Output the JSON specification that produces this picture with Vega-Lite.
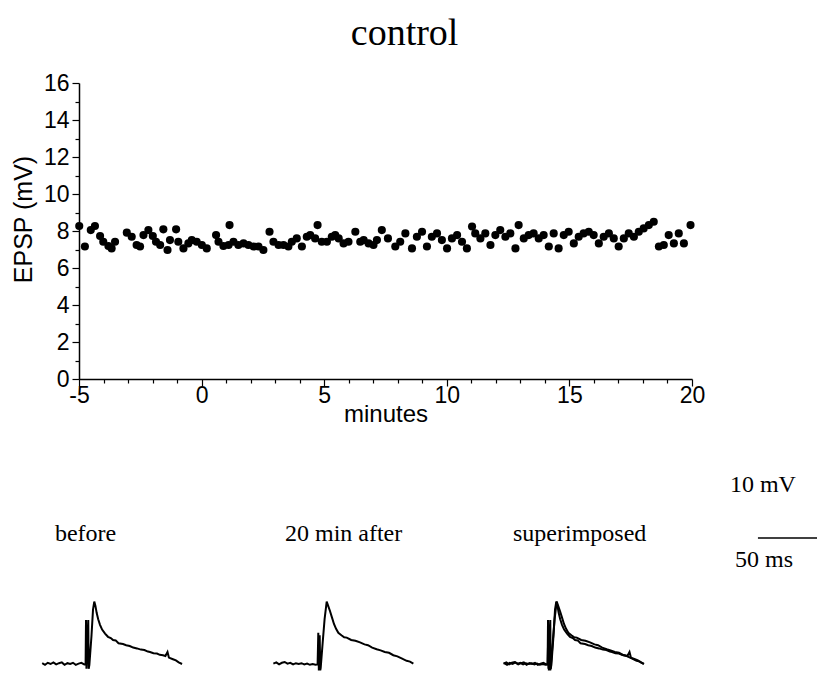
{
  "$schema": "https://vega.github.io/schema/vega-lite/v6.json",
  "background": "white",
  "padding": {"left": 11, "top": 15, "right": 0, "bottom": 0},
  "title": {"text": "control", "font": "Liberation Serif", "fontSize": 38, "fontWeight": "normal", "color": "black", "anchor": "middle", "offset": 19, "dx": -10},
  "spacing": 45,
  "config": {
    "view": {"stroke": null},
    "font": "Liberation Sans",
    "concat": {"spacing": 0},
    "axis": {"domainColor": "black", "domainWidth": 1.5, "tickColor": "black", "tickWidth": 1.2, "labelColor": "black", "labelFont": "Liberation Sans", "labelFontSize": 23, "titleFont": "Liberation Sans", "titleFontSize": 24, "titleFontWeight": "normal", "titleColor": "black", "grid": false, "labelFlush": false, "labelOverlap": false}
  },
  "datasets": {
    "epsp": [
      {"minutes": -4.99, "epsp": 8.27}, {"minutes": -4.76, "epsp": 7.16}, {"minutes": -4.52, "epsp": 8.05}, {"minutes": -4.35, "epsp": 8.27},
      {"minutes": -4.14, "epsp": 7.73}, {"minutes": -4.01, "epsp": 7.42}, {"minutes": -3.8, "epsp": 7.19}, {"minutes": -3.67, "epsp": 7.06},
      {"minutes": -3.53, "epsp": 7.42}, {"minutes": -3.05, "epsp": 7.91}, {"minutes": -2.85, "epsp": 7.69}, {"minutes": -2.65, "epsp": 7.24},
      {"minutes": -2.51, "epsp": 7.16}, {"minutes": -2.37, "epsp": 7.78}, {"minutes": -2.17, "epsp": 8.05}, {"minutes": -1.99, "epsp": 7.73},
      {"minutes": -1.86, "epsp": 7.42}, {"minutes": -1.69, "epsp": 7.24}, {"minutes": -1.56, "epsp": 8.09}, {"minutes": -1.39, "epsp": 6.97},
      {"minutes": -1.29, "epsp": 7.51}, {"minutes": -1.04, "epsp": 8.09}, {"minutes": -0.95, "epsp": 7.42}, {"minutes": -0.74, "epsp": 7.06},
      {"minutes": -0.54, "epsp": 7.33}, {"minutes": -0.4, "epsp": 7.51}, {"minutes": -0.2, "epsp": 7.42}, {"minutes": 0.01, "epsp": 7.24},
      {"minutes": 0.21, "epsp": 7.06}, {"minutes": 0.59, "epsp": 7.78}, {"minutes": 0.69, "epsp": 7.42}, {"minutes": 0.89, "epsp": 7.19},
      {"minutes": 1.1, "epsp": 7.24}, {"minutes": 1.14, "epsp": 8.32}, {"minutes": 1.3, "epsp": 7.42}, {"minutes": 1.5, "epsp": 7.24},
      {"minutes": 1.71, "epsp": 7.33}, {"minutes": 1.91, "epsp": 7.24}, {"minutes": 2.12, "epsp": 7.16}, {"minutes": 2.32, "epsp": 7.16},
      {"minutes": 2.52, "epsp": 6.97}, {"minutes": 2.77, "epsp": 7.96}, {"minutes": 2.93, "epsp": 7.42}, {"minutes": 3.14, "epsp": 7.24},
      {"minutes": 3.34, "epsp": 7.24}, {"minutes": 3.54, "epsp": 7.16}, {"minutes": 3.68, "epsp": 7.42}, {"minutes": 3.88, "epsp": 7.6},
      {"minutes": 4.09, "epsp": 7.16}, {"minutes": 4.29, "epsp": 7.69}, {"minutes": 4.43, "epsp": 7.78}, {"minutes": 4.63, "epsp": 7.6},
      {"minutes": 4.73, "epsp": 8.32}, {"minutes": 4.9, "epsp": 7.42}, {"minutes": 5.11, "epsp": 7.42}, {"minutes": 5.31, "epsp": 7.69},
      {"minutes": 5.45, "epsp": 7.78}, {"minutes": 5.59, "epsp": 7.6}, {"minutes": 5.79, "epsp": 7.33}, {"minutes": 5.99, "epsp": 7.42},
      {"minutes": 6.27, "epsp": 7.96}, {"minutes": 6.47, "epsp": 7.42}, {"minutes": 6.61, "epsp": 7.51}, {"minutes": 6.81, "epsp": 7.33},
      {"minutes": 7.01, "epsp": 7.24}, {"minutes": 7.15, "epsp": 7.51}, {"minutes": 7.35, "epsp": 8.05}, {"minutes": 7.6, "epsp": 7.6},
      {"minutes": 7.9, "epsp": 7.16}, {"minutes": 8.1, "epsp": 7.42}, {"minutes": 8.31, "epsp": 7.87}, {"minutes": 8.58, "epsp": 7.06},
      {"minutes": 8.78, "epsp": 7.69}, {"minutes": 8.99, "epsp": 7.96}, {"minutes": 9.19, "epsp": 7.16}, {"minutes": 9.39, "epsp": 7.69},
      {"minutes": 9.6, "epsp": 7.87}, {"minutes": 9.8, "epsp": 7.51}, {"minutes": 10.01, "epsp": 7.06}, {"minutes": 10.21, "epsp": 7.6},
      {"minutes": 10.42, "epsp": 7.78}, {"minutes": 10.62, "epsp": 7.42}, {"minutes": 10.82, "epsp": 7.06}, {"minutes": 11.03, "epsp": 8.24},
      {"minutes": 11.16, "epsp": 7.87}, {"minutes": 11.37, "epsp": 7.6}, {"minutes": 11.57, "epsp": 7.87}, {"minutes": 11.78, "epsp": 7.24},
      {"minutes": 11.98, "epsp": 7.78}, {"minutes": 12.18, "epsp": 8.05}, {"minutes": 12.39, "epsp": 7.69}, {"minutes": 12.59, "epsp": 7.87},
      {"minutes": 12.8, "epsp": 7.06}, {"minutes": 12.93, "epsp": 8.32}, {"minutes": 13.14, "epsp": 7.6}, {"minutes": 13.34, "epsp": 7.78},
      {"minutes": 13.54, "epsp": 7.87}, {"minutes": 13.75, "epsp": 7.6}, {"minutes": 13.95, "epsp": 7.78}, {"minutes": 14.16, "epsp": 7.16},
      {"minutes": 14.36, "epsp": 7.87}, {"minutes": 14.56, "epsp": 7.06}, {"minutes": 14.77, "epsp": 7.78}, {"minutes": 14.97, "epsp": 7.96},
      {"minutes": 15.18, "epsp": 7.33}, {"minutes": 15.38, "epsp": 7.69}, {"minutes": 15.58, "epsp": 7.87}, {"minutes": 15.79, "epsp": 7.96},
      {"minutes": 15.99, "epsp": 7.78}, {"minutes": 16.2, "epsp": 7.33}, {"minutes": 16.4, "epsp": 7.69}, {"minutes": 16.61, "epsp": 7.87},
      {"minutes": 16.81, "epsp": 7.6}, {"minutes": 17.01, "epsp": 7.16}, {"minutes": 17.22, "epsp": 7.6}, {"minutes": 17.42, "epsp": 7.87},
      {"minutes": 17.63, "epsp": 7.69}, {"minutes": 17.83, "epsp": 7.96}, {"minutes": 18.03, "epsp": 8.14}, {"minutes": 18.24, "epsp": 8.32},
      {"minutes": 18.44, "epsp": 8.5}, {"minutes": 18.65, "epsp": 7.16}, {"minutes": 18.85, "epsp": 7.24}, {"minutes": 19.05, "epsp": 7.78},
      {"minutes": 19.26, "epsp": 7.33}, {"minutes": 19.46, "epsp": 7.87}, {"minutes": 19.67, "epsp": 7.33}, {"minutes": 19.94, "epsp": 8.32}
    ],
    "traces": [
      {"trace": "before", "i": 1, "t": -32, "v": 0.1}, {"trace": "before", "i": 2, "t": -30, "v": -0.1}, {"trace": "before", "i": 3, "t": -28, "v": 0.15},
      {"trace": "before", "i": 4, "t": -26, "v": 0.0}, {"trace": "before", "i": 5, "t": -24, "v": 0.2}, {"trace": "before", "i": 6, "t": -22, "v": -0.05},
      {"trace": "before", "i": 7, "t": -20, "v": 0.1}, {"trace": "before", "i": 8, "t": -18, "v": 0.2}, {"trace": "before", "i": 9, "t": -16, "v": -0.1},
      {"trace": "before", "i": 10, "t": -14, "v": 0.1}, {"trace": "before", "i": 11, "t": -12, "v": 0.0}, {"trace": "before", "i": 12, "t": -10, "v": 0.15},
      {"trace": "before", "i": 13, "t": -8, "v": -0.1}, {"trace": "before", "i": 14, "t": -6, "v": 0.05}, {"trace": "before", "i": 15, "t": -4, "v": 0.15},
      {"trace": "before", "i": 16, "t": -2, "v": -0.05}, {"trace": "before", "i": 17, "t": -1, "v": 0.0},
      {"trace": "before", "i": 18, "t": -0.7, "v": 5.5}, {"trace": "before", "i": 19, "t": -0.4, "v": -0.6}, {"trace": "before", "i": 20, "t": 0.9, "v": 5.5},
      {"trace": "before", "i": 21, "t": 1.2, "v": -0.6}, {"trace": "before", "i": 22, "t": 1.7, "v": -0.1},
      {"trace": "before", "i": 23, "t": 3.2, "v": 3.5}, {"trace": "before", "i": 24, "t": 4.3, "v": 6.8}, {"trace": "before", "i": 25, "t": 5.2, "v": 7.8},
      {"trace": "before", "i": 26, "t": 6.0, "v": 7.3}, {"trace": "before", "i": 27, "t": 6.9, "v": 6.4}, {"trace": "before", "i": 28, "t": 8.0, "v": 5.6},
      {"trace": "before", "i": 29, "t": 9.3, "v": 4.9}, {"trace": "before", "i": 30, "t": 10.8, "v": 4.3}, {"trace": "before", "i": 31, "t": 12.9, "v": 3.8},
      {"trace": "before", "i": 32, "t": 15.0, "v": 3.4}, {"trace": "before", "i": 33, "t": 17.0, "v": 3.25}, {"trace": "before", "i": 34, "t": 18.6, "v": 3.0},
      {"trace": "before", "i": 35, "t": 20.5, "v": 2.95}, {"trace": "before", "i": 36, "t": 22.5, "v": 2.6}, {"trace": "before", "i": 37, "t": 25.7, "v": 2.5},
      {"trace": "before", "i": 38, "t": 28.0, "v": 2.35}, {"trace": "before", "i": 39, "t": 30.5, "v": 2.25}, {"trace": "before", "i": 40, "t": 33.0, "v": 2.05},
      {"trace": "before", "i": 41, "t": 35.7, "v": 1.95}, {"trace": "before", "i": 42, "t": 38.5, "v": 1.8}, {"trace": "before", "i": 43, "t": 41.0, "v": 1.75},
      {"trace": "before", "i": 44, "t": 43.5, "v": 1.55}, {"trace": "before", "i": 45, "t": 45.0, "v": 1.5}, {"trace": "before", "i": 46, "t": 47.5, "v": 1.35},
      {"trace": "before", "i": 47, "t": 50.0, "v": 1.3}, {"trace": "before", "i": 48, "t": 52.0, "v": 1.15}, {"trace": "before", "i": 49, "t": 54.3, "v": 1.1},
      {"trace": "before", "i": 50, "t": 56.0, "v": 1.0}, {"trace": "before", "i": 51, "t": 57.5, "v": 1.5}, {"trace": "before", "i": 52, "t": 58.5, "v": 0.8},
      {"trace": "before", "i": 53, "t": 61.4, "v": 0.6}, {"trace": "before", "i": 54, "t": 63.5, "v": 0.45}, {"trace": "before", "i": 55, "t": 65.5, "v": 0.2},
      {"trace": "before", "i": 56, "t": 67.9, "v": 0.0},
      {"trace": "after", "i": 1, "t": -32.6, "v": 0.05}, {"trace": "after", "i": 2, "t": -30.5, "v": 0.2}, {"trace": "after", "i": 3, "t": -28.5, "v": -0.05},
      {"trace": "after", "i": 4, "t": -26.5, "v": 0.15}, {"trace": "after", "i": 5, "t": -24.5, "v": 0.25}, {"trace": "after", "i": 6, "t": -22.5, "v": 0.05},
      {"trace": "after", "i": 7, "t": -20.5, "v": 0.15}, {"trace": "after", "i": 8, "t": -18.5, "v": -0.05}, {"trace": "after", "i": 9, "t": -16.5, "v": 0.1},
      {"trace": "after", "i": 10, "t": -14.5, "v": 0.0}, {"trace": "after", "i": 11, "t": -12.5, "v": 0.1}, {"trace": "after", "i": 12, "t": -10.5, "v": -0.05},
      {"trace": "after", "i": 13, "t": -8.5, "v": 0.05}, {"trace": "after", "i": 14, "t": -6.5, "v": -0.1}, {"trace": "after", "i": 15, "t": -4.5, "v": 0.0},
      {"trace": "after", "i": 16, "t": -2.5, "v": -0.1}, {"trace": "after", "i": 17, "t": -1, "v": -0.05},
      {"trace": "after", "i": 18, "t": -0.5, "v": 3.9}, {"trace": "after", "i": 19, "t": -0.1, "v": -0.8}, {"trace": "after", "i": 20, "t": 0.5, "v": 3.6},
      {"trace": "after", "i": 21, "t": 0.9, "v": -0.8}, {"trace": "after", "i": 22, "t": 1.2, "v": -0.5},
      {"trace": "after", "i": 23, "t": 2.6, "v": 2.6}, {"trace": "after", "i": 24, "t": 4.0, "v": 5.6}, {"trace": "after", "i": 25, "t": 5.5, "v": 7.8},
      {"trace": "after", "i": 26, "t": 6.5, "v": 7.3}, {"trace": "after", "i": 27, "t": 7.9, "v": 6.6}, {"trace": "after", "i": 28, "t": 9.3, "v": 5.8},
      {"trace": "after", "i": 29, "t": 10.7, "v": 5.0}, {"trace": "after", "i": 30, "t": 12.2, "v": 4.4}, {"trace": "after", "i": 31, "t": 13.8, "v": 3.9},
      {"trace": "after", "i": 32, "t": 16.0, "v": 3.6}, {"trace": "after", "i": 33, "t": 18.0, "v": 3.35}, {"trace": "after", "i": 34, "t": 19.8, "v": 3.3},
      {"trace": "after", "i": 35, "t": 23.0, "v": 3.0}, {"trace": "after", "i": 36, "t": 26.0, "v": 2.9}, {"trace": "after", "i": 37, "t": 29.3, "v": 2.7},
      {"trace": "after", "i": 38, "t": 32.5, "v": 2.45}, {"trace": "after", "i": 39, "t": 35.0, "v": 2.35}, {"trace": "after", "i": 40, "t": 38.0, "v": 2.05},
      {"trace": "after", "i": 41, "t": 41.2, "v": 1.85}, {"trace": "after", "i": 42, "t": 44.0, "v": 1.7}, {"trace": "after", "i": 43, "t": 47.0, "v": 1.5},
      {"trace": "after", "i": 44, "t": 50.0, "v": 1.4}, {"trace": "after", "i": 45, "t": 53.1, "v": 1.1}, {"trace": "after", "i": 46, "t": 56.0, "v": 0.95},
      {"trace": "after", "i": 47, "t": 59.0, "v": 0.7}, {"trace": "after", "i": 48, "t": 62.6, "v": 0.4}, {"trace": "after", "i": 49, "t": 65.0, "v": 0.3},
      {"trace": "after", "i": 50, "t": 67.4, "v": 0.05}
    ]
  },
  "vconcat": [
    {
      "width": 613,
      "height": 296,
      "data": {"name": "epsp"},
      "mark": {"type": "circle", "size": 66, "color": "black", "opacity": 1},
      "encoding": {
        "x": {
          "field": "minutes", "type": "quantitative",
          "scale": {"domain": [-5, 20], "nice": false, "zero": false},
          "axis": {
            "title": "minutes",
            "values": [-5, -4, -3, -2, -1, 0, 1, 2, 3, 4, 5, 6, 7, 8, 9, 10, 11, 12, 13, 14, 15, 16, 17, 18, 19, 20],
            "labelExpr": "datum.value % 5 === 0 ? '' + datum.value : ''",
            "tickSize": {"condition": {"test": "datum.value % 5 === 0", "value": 7}, "value": 4},
            "labelPadding": -2,
            "titlePadding": -5
          }
        },
        "y": {
          "field": "epsp", "type": "quantitative",
          "scale": {"domain": [0, 16], "nice": false, "zero": true},
          "axis": {
            "title": "EPSP (mV)",
            "titleFontSize": 25,
            "titleY": 136,
            "values": [0, 1, 2, 3, 4, 5, 6, 7, 8, 9, 10, 11, 12, 13, 14, 15, 16],
            "labelExpr": "datum.value % 2 === 0 ? '' + datum.value : ''",
            "tickSize": {"condition": {"test": "datum.value % 2 === 0", "value": 7}, "value": 4},
            "labelPadding": 3,
            "titlePadding": 7
          }
        }
      }
    },
    {
      "spacing": 0,
      "bounds": "flush",
      "hconcat": [
        {
          "width": 232, "height": 200,
          "encoding": {
            "x": {"field": "t", "type": "quantitative", "scale": {"domain": [-5.71, 160], "nice": false, "zero": false}, "axis": null},
            "y": {"field": "v", "type": "quantitative", "scale": {"domain": [-0.875, 24.125], "nice": false, "zero": false}, "axis": null}
          },
          "layer": [
            {
              "data": {"name": "traces"},
              "transform": [{"filter": "datum.trace === 'before'"}],
              "mark": {"type": "line", "color": "black", "strokeWidth": 2},
              "encoding": {"order": {"field": "i", "type": "quantitative"}}
            },
            {
              "data": {"values": [{"t": -22.9, "v": 15.4, "label": "before"}]},
              "mark": {"type": "text", "align": "left", "baseline": "alphabetic", "font": "Liberation Serif", "fontSize": 24, "color": "black"},
              "encoding": {"text": {"field": "label"}}
            }
          ]
        },
        {
          "width": 232, "height": 200,
          "encoding": {
            "x": {"field": "t", "type": "quantitative", "scale": {"domain": [-5.71, 160], "nice": false, "zero": false}, "axis": null},
            "y": {"field": "v", "type": "quantitative", "scale": {"domain": [-0.875, 24.125], "nice": false, "zero": false}, "axis": null}
          },
          "layer": [
            {
              "data": {"name": "traces"},
              "transform": [{"filter": "datum.trace === 'after'"}],
              "mark": {"type": "line", "color": "black", "strokeWidth": 2},
              "encoding": {"order": {"field": "i", "type": "quantitative"}}
            },
            {
              "data": {"values": [{"t": -24.3, "v": 15.4, "label": "20 min after"}]},
              "mark": {"type": "text", "align": "left", "baseline": "alphabetic", "font": "Liberation Serif", "fontSize": 24, "color": "black"},
              "encoding": {"text": {"field": "label"}}
            }
          ]
        },
        {
          "width": 150, "height": 200,
          "encoding": {
            "x": {"field": "t", "type": "quantitative", "scale": {"domain": [-4.29, 102.86], "nice": false, "zero": false}, "axis": null},
            "y": {"field": "v", "type": "quantitative", "scale": {"domain": [-0.875, 24.125], "nice": false, "zero": false}, "axis": null}
          },
          "layer": [
            {
              "data": {"name": "traces"},
              "mark": {"type": "line", "color": "black", "strokeWidth": 2},
              "encoding": {"detail": {"field": "trace"}, "order": {"field": "i", "type": "quantitative"}}
            },
            {
              "data": {"values": [{"t": -25.7, "v": 15.4, "label": "superimposed"}]},
              "mark": {"type": "text", "align": "left", "baseline": "alphabetic", "font": "Liberation Serif", "fontSize": 24, "color": "black"},
              "encoding": {"text": {"field": "label"}}
            }
          ]
        },
        {
          "width": 124, "height": 200,
          "encoding": {
            "x": {"field": "t", "type": "quantitative", "scale": {"domain": [0, 88.6], "nice": false, "zero": false}, "axis": null},
            "y": {"field": "v", "type": "quantitative", "scale": {"domain": [-0.875, 24.125], "nice": false, "zero": false}, "axis": null}
          },
          "layer": [
            {
              "data": {"values": [{"t": 46.4, "t2": 88.6, "v": 15.75}]},
              "mark": {"type": "rule", "color": "black", "strokeWidth": 1.5},
              "encoding": {"x2": {"field": "t2"}}
            },
            {
              "data": {"values": [{"t": 26.4, "v": 21.5, "label": "10 mV"}, {"t": 30.0, "v": 12.1, "label": "50 ms"}]},
              "mark": {"type": "text", "align": "left", "baseline": "alphabetic", "font": "Liberation Serif", "fontSize": 24, "color": "black"},
              "encoding": {"text": {"field": "label"}}
            }
          ]
        }
      ]
    }
  ]
}
